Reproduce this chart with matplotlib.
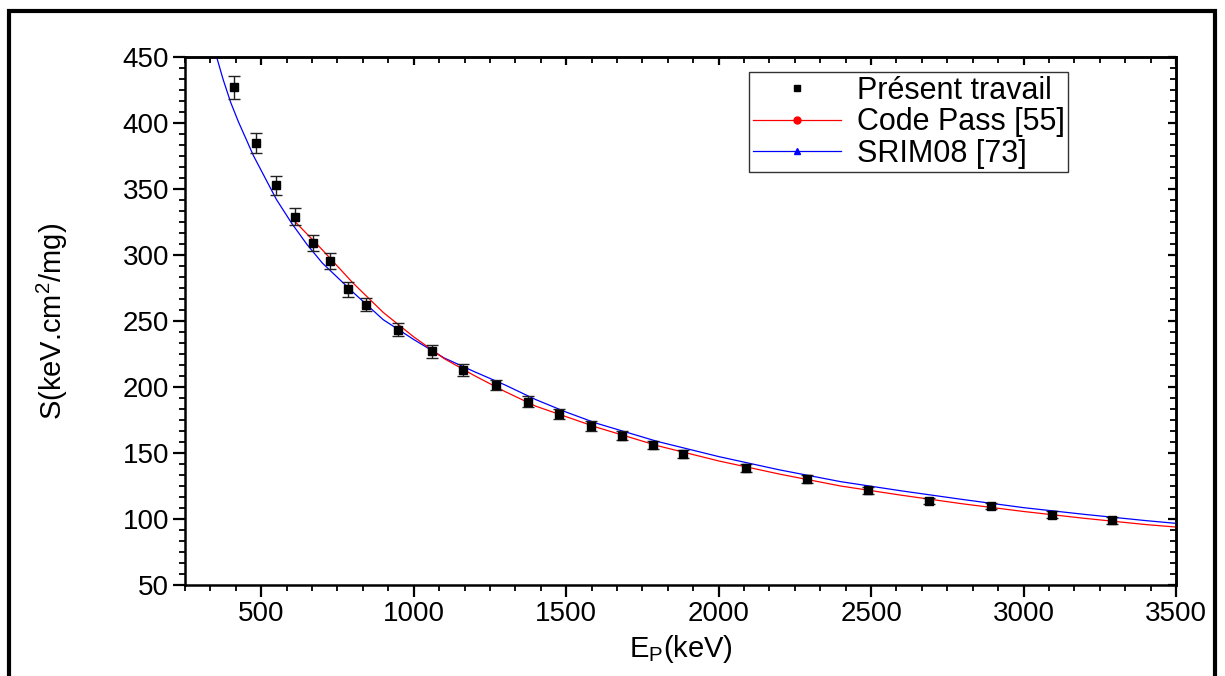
import numpy as np
import matplotlib as mpl
mpl.use("Agg")
import matplotlib.pyplot as plt
from matplotlib.ticker import MultipleLocator
from matplotlib.lines import Line2D
from matplotlib.patches import Rectangle

# ── data ─────────────────────────────────────────────────────────────────────
E_EXP = [410, 482, 548, 610, 670, 727, 786, 844, 950, 1059, 1163, 1269, 1374,
         1478, 1580, 1683, 1785, 1884, 2089, 2290, 2491, 2691, 2893, 3093, 3290]
S_EXP = [427, 384.5, 353, 329, 309, 295.5, 274, 262.5, 243.5, 227, 213, 201.5,
         189, 179.5, 170.5, 163, 156, 149.5, 138.8, 130.4, 121.7, 113.6, 109.8,
         103.3, 99]
S_ERR = [8.7, 7.6, 7.2, 6.3, 6.3, 5.9, 5.7, 5.0, 5.0, 4.8, 4.5, 4.0, 4.0, 3.8,
         3.5, 3.4, 3.3, 3.0, 2.9, 2.8, 2.7, 2.6, 2.5, 2.5, 2.5]

E_PASS = [610, 700, 800, 900, 1000, 1100, 1200, 1300, 1400, 1500, 1600, 1800,
          2000, 2200, 2400, 2600, 2800, 3000, 3200, 3400, 3500]
S_PASS = [325.5, 304, 279, 256.5, 238, 221.5, 208.5, 196.5, 185.5, 177.5, 169.5,
          155.5, 144, 134, 125, 118, 111.5, 105.7, 100.5, 95.8, 93.9]

E_SRIM = [350, 375, 400, 425, 450, 475, 500, 550, 600, 650, 700, 800, 900, 1000,
          1100, 1200, 1300, 1400, 1500, 1600, 1800, 2000, 2200, 2400, 2600,
          2800, 3000, 3200, 3400, 3500]
S_SRIM = [453, 433, 415.5, 401, 388, 375, 364, 342, 324, 308, 294, 272, 251, 236,
          222, 211.5, 201.5, 190.5, 181, 172.5, 158.7, 147.3, 137.2, 128.3, 121.3,
          114.8, 108.6, 103.5, 98.8, 96.7]

LABELS = ["Présent travail", "Code Pass [55]", "SRIM08 [73]"]

# ── style ────────────────────────────────────────────────────────────────────
mpl.rcParams.update({
    "font.family": ["Liberation Sans", "DejaVu Sans"],
    "mathtext.fontset": "custom",
    "mathtext.rm": "Liberation Sans",
    "mathtext.it": "Liberation Sans:italic",
    "font.size": 19,
})

fig = plt.figure(figsize=(12.25, 6.76), dpi=100)
ax = fig.add_axes([185 / 1225, 91 / 676, 991 / 1225, 528 / 676])

ax.plot(E_SRIM, S_SRIM, color="#0000FF", lw=0.9, zorder=2)
ax.plot(E_PASS, S_PASS, color="#FF0000", lw=0.9, zorder=2)
ax.errorbar(E_EXP, S_EXP, yerr=S_ERR, fmt="s", color="black", ms=5.5,
            ecolor="#222222", elinewidth=1.0, capsize=4.5, capthick=1.0,
            zorder=3)

ax.set_xlim(250, 3500)
ax.set_ylim(50, 450)
ax.xaxis.set_major_locator(MultipleLocator(500))
ax.xaxis.set_minor_locator(MultipleLocator(500 / 6))
ax.yaxis.set_major_locator(MultipleLocator(50))
ax.yaxis.set_minor_locator(MultipleLocator(50 / 6))

for sp in ax.spines.values():
    sp.set_linewidth(1.8)
ax.tick_params(which="major", direction="out", length=8.5, width=1.6,
               labelsize=20, pad=3)
ax.tick_params(which="minor", direction="out", length=4.5, width=1.3)

# top / right ticks point inward
top = ax.secondary_xaxis("top")
top.xaxis.set_major_locator(MultipleLocator(500))
top.xaxis.set_minor_locator(MultipleLocator(500 / 6))
top.tick_params(which="major", direction="in", length=6, width=1.6, labeltop=False)
top.tick_params(which="minor", direction="in", length=4, width=1.3)
top.spines["top"].set_linewidth(1.8)
right = ax.secondary_yaxis("right")
right.yaxis.set_major_locator(MultipleLocator(50))
right.yaxis.set_minor_locator(MultipleLocator(50 / 6))
right.tick_params(which="major", direction="in", length=6, width=1.6, labelright=False)
right.tick_params(which="minor", direction="in", length=4, width=1.3)
right.spines["right"].set_linewidth(1.8)

ax.set_xlabel(r"E$_\mathrm{P}$(keV)", fontsize=21, labelpad=4)
ax.set_ylabel(r"S(keV.cm$^2$/mg)", fontsize=21, labelpad=38)

handles = [
    Line2D([], [], ls="none", marker="s", color="black", ms=5),
    Line2D([], [], color="#FF0000", lw=0.9, marker="o", ms=5),
    Line2D([], [], color="#0000FF", lw=0.9, marker="^", ms=5),
]
leg = ax.legend(handles, LABELS, loc="upper left",
                bbox_to_anchor=(749 / 1225, 1 - 72 / 676),
                bbox_transform=fig.transFigure, fontsize=22, frameon=True,
                fancybox=False, edgecolor="#333333", framealpha=1,
                handlelength=2.9, handletextpad=0.5, labelspacing=0.05,
                borderpad=0.12, borderaxespad=0)
leg.get_frame().set_linewidth(1.0)

# thick outer frame around the figure (bottom edge runs off the image)
fig.patches.append(Rectangle((9 / 1225, -0.05), 1206 / 1225, 1.05 - 11 / 676,
                             transform=fig.transFigure, fill=False,
                             edgecolor="black", linewidth=3.0))

fig.savefig("out.png", dpi=100, facecolor="white")
